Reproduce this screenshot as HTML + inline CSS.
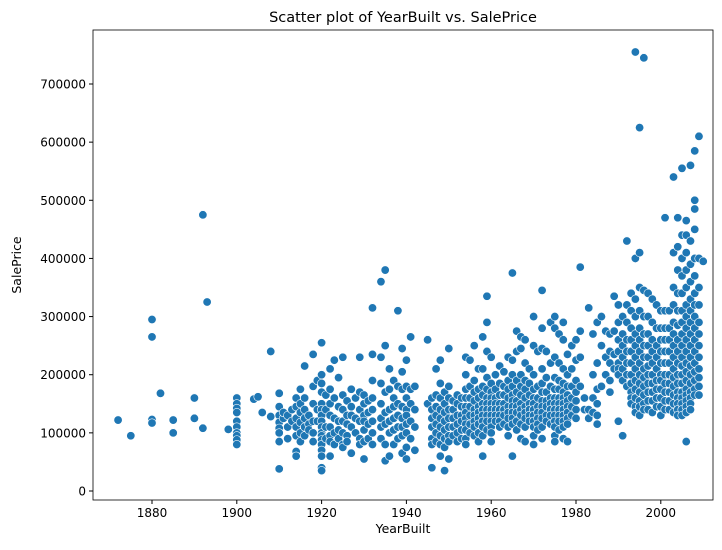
<!DOCTYPE html>
<html><head><meta charset="utf-8">
<style>
body{margin:0;background:#fff;font-family:"Liberation Sans","DejaVu Sans",sans-serif;}
svg text{font-family:"DejaVu Sans","Liberation Sans",sans-serif;fill:#000;}
</style></head>
<body>
<svg id="chart" width="722" height="545" xmlns="http://www.w3.org/2000/svg">
<text x="403" y="22" font-size="14.5" text-anchor="middle">Scatter plot of YearBuilt vs. SalePrice</text>
<g id="points"></g>
<rect x="93" y="30" width="620" height="470" fill="none" stroke="#000" stroke-width="0.8"/>
<g id="xticks"></g>
<g id="yticks"></g>
<text x="403" y="533" font-size="12.5" text-anchor="middle">YearBuilt</text>
<text x="21" y="265" font-size="12.5" text-anchor="middle" transform="rotate(-90 21 265)">SalePrice</text>
</svg>
<script>
const yearBins=[1872,1875,1880,1882,1885,1890,1892,1893,1898,1900,1904,1905,1906,1908,1910,1911,1912,1913,1914,1915,1916,1917,1918,1919,1920,1921,1922,1923,1924,1925,1926,1927,1928,1929,1930,1931,1932,1934,1935,1936,1937,1938,1939,1940,1941,1942,1945,1946,1947,1948,1949,1950,1951,1952,1953,1954,1955,1956,1957,1958,1959,1960,1961,1962,1963,1964,1965,1966,1967,1968,1969,1970,1971,1972,1973,1974,1975,1976,1977,1978,1979,1980,1981,1982,1983,1984,1985,1986,1987,1988,1989,1990,1991,1992,1993,1994,1995,1996,1997,1998,1999,2000,2001,2002,2003,2004,2005,2006,2007,2008,2009,2010];
const binPrices=[[122],[95],[295,265,123,117],[168],[122,100],[160,125],[475,108],[325],[106],[160,150,142,135,120,110,100,95,88,80],[158],[162],[135],[240,128],[168,145,130,118,108,100,85,38],[125,135],[130,110,90],[120,140],[160,145,125,110,95,68,60],[175,150,135,118,100,85],[215,160,140,125,110,95],[130,115,105],[235,180,150,120,100,85],[190,140,120],[255,200,185,170,150,140,130,120,110,100,95,88,80,70,60,40,35],[165,140,110,90],[210,175,150,130,110,95,85,60],[225,160,125,100,80],[195,145,120,105,90],[230,165,140,120,100,80,75],[155,130,115,95,85],[175,145,130,110,65],[160,125,100],[230,170,140,120,90,80],[165,150,130,120,105,85,55],[155,135,115,90],[315,235,190,160,140,120,100,80],[360,230,185,150,125,110,90],[380,250,170,135,115,80,52],[210,175,140,120,100,60],[190,160,145,125,105,80],[310,180,150,130,110,90],[245,205,175,145,125,110,95,65],[225,180,160,140,130,115,100,75,55],[265,175,150,120,90],[180,140,110,70],[260,150],[160,140,125,110,90,80,40],[210,165,145,130,115,100,85],[225,185,160,140,125,110,95,80,60],[170,150,135,120,105,90,75,35],[245,180,160,140,125,110,95,85,55],[155,140,125,110,95],[165,150,130,115,100,85],[160,145,130,120,105,90],[230,200,175,160,145,135,125,115,105,90,80],[225,180,160,145,130,115,100],[250,190,170,155,140,130,120,110,95],[210,175,160,145,135,125,115,100,85],[265,210,180,165,150,140,130,120,110,95,60],[335,290,240,195,175,160,150,140,130,120,105],[230,185,170,160,150,140,130,120,110,100,85],[200,175,160,150,140,130,120],[215,185,165,150,140,130,120,110],[205,180,165,150,140,130,115],[230,190,175,160,145,135,125,110,95],[375,225,200,180,165,155,145,135,125,115,60],[275,240,190,170,155,145,135,120,105],[265,245,200,180,165,150,140,130,115,90],[260,220,190,175,160,145,135,125,110,85],[210,185,165,150,140,130,120],[300,250,200,175,160,150,140,130,120,110,95,80],[240,180,160,145,135,125,115,105],[345,280,245,210,185,170,155,145,135,125,110,90],[240,195,170,155,145,130,120],[290,220,180,160,150,140,130,115],[300,280,230,195,175,160,150,140,130,120,110,95,85],[270,220,190,175,160,150,140,130,120,105],[290,260,210,185,170,160,150,140,130,120,110,90],[235,200,180,165,155,145,135,125,115,85],[250,210,180,160,145,130],[260,225,190,170,155,140,125],[385,275,230,180],[160,140],[315,140,125],[270,200,160,135],[290,220,175,150,130,115],[300,250,180],[275,230,200],[270,240,220,190,170],[335,275,235,210],[320,290,260,240,220,210,200,120],[300,270,250,230,210,190,95],[430,320,290,260,240,220,200,180],[340,310,280,260,240,220,200,185,170,160,150],[755,400,330,300,270,250,230,210,190,175,160,145,135],[625,410,350,310,280,260,240,220,200,185,170,155,145,130],[745,345,300,270,250,230,210,195,180,165,150,140],[340,300,270,250,230,215,200,185,170,155,140],[330,290,260,240,220,200,185,170,155,135],[320,280,250,230,210,190,175,160,145],[310,280,260,240,220,200,190,175,160,145,130],[470,310,280,260,240,220,200,185,170,155,140],[310,280,260,240,220,200,185,170,155,140],[540,410,350,320,290,270,250,230,210,195,180,165,150,135],[470,420,380,340,310,285,260,240,220,200,185,170,160,150,140,130],[555,440,400,370,340,310,290,270,250,230,215,200,185,170,160,150,140,130],[465,440,410,380,350,320,300,280,260,240,220,205,190,175,165,155,145,135,85],[560,430,390,360,330,310,290,270,250,230,215,200,185,170,160,150,140],[585,500,485,450,400,370,340,320,300,280,260,240,220,205,190,175,165],[610,400,350,320,290,270,250,230,210,195,180,165],[395]];
const xTickLabels=[1880,1900,1920,1940,1960,1980,2000];
const yTickLabels=[0,100000,200000,300000,400000,500000,600000,700000];

const NS="http://www.w3.org/2000/svg";
function xScale(v){return 152+(v-1880)*4.24;}
function yScale(v){return 491-v*(407/700000);}
const pg=document.getElementById('points');
yearBins.forEach((yr,i)=>{
  binPrices[i].forEach(p=>{
    const c=document.createElementNS(NS,'circle');
    c.setAttribute('cx',xScale(yr));
    c.setAttribute('cy',yScale(p*1000));
    c.setAttribute('r',4.2);
    c.setAttribute('fill','#1f77b4');
    c.setAttribute('stroke','#fff');
    c.setAttribute('stroke-width','0.6');
    
    
    pg.appendChild(c);
  });
});
const xg=document.getElementById('xticks');
xTickLabels.forEach(t=>{
  const x=xScale(t);
  const l=document.createElementNS(NS,'line');
  l.setAttribute('x1',x);l.setAttribute('x2',x);l.setAttribute('y1',500);l.setAttribute('y2',504);l.setAttribute('stroke','#000');
  
  
  xg.appendChild(l);
  const tx=document.createElementNS(NS,'text');
  tx.setAttribute('x',x);tx.setAttribute('y',517);tx.setAttribute('font-size','12');tx.setAttribute('text-anchor','middle');
  tx.textContent=t;
  
  
  xg.appendChild(tx);
});
const yg=document.getElementById('yticks');
yTickLabels.forEach(t=>{
  const y=yScale(t);
  const l=document.createElementNS(NS,'line');
  l.setAttribute('x1',89);l.setAttribute('x2',93);l.setAttribute('y1',y);l.setAttribute('y2',y);l.setAttribute('stroke','#000');
  
  
  yg.appendChild(l);
  const tx=document.createElementNS(NS,'text');
  tx.setAttribute('x',86);tx.setAttribute('y',y+4.5);tx.setAttribute('font-size','12');tx.setAttribute('text-anchor','end');
  tx.textContent=t;
  
  
  yg.appendChild(tx);
});
</script>
</body></html>
